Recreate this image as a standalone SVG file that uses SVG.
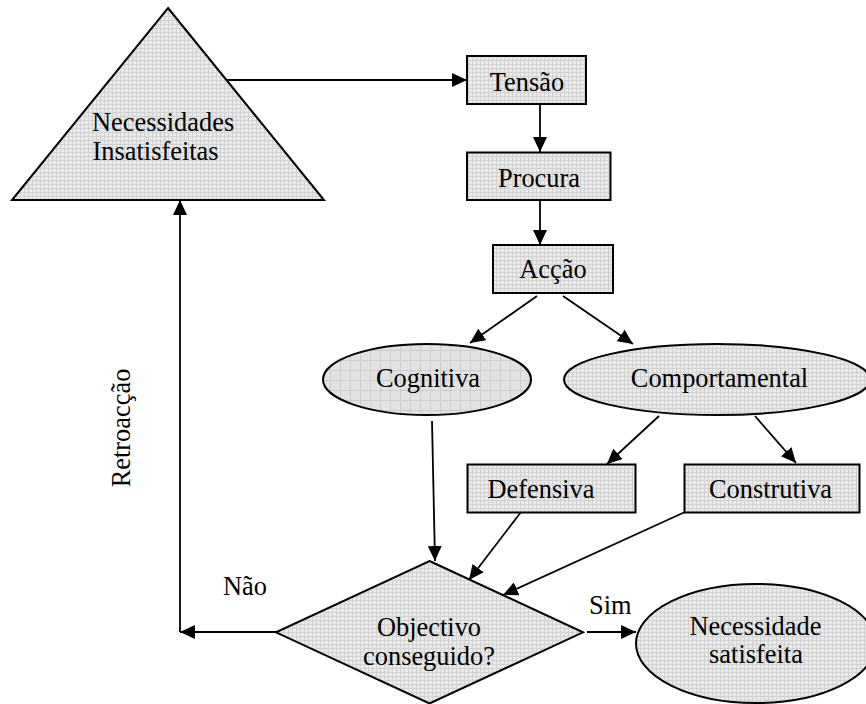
<svg xmlns="http://www.w3.org/2000/svg" width="866" height="704" viewBox="0 0 866 704">
<defs>
<pattern id="fine" width="4" height="4" patternUnits="userSpaceOnUse">
<rect width="4" height="4" fill="#e9e9e9"/>
<path d="M0,0.5 H4 M0.5,0 V4" stroke="#d2d2d2" stroke-width="1"/>
</pattern>
<pattern id="coarse" width="10" height="10" patternUnits="userSpaceOnUse">
<rect width="10" height="10" fill="#e2e2e2"/>
<path d="M0,0.5 H10 M0.5,0 V10" stroke="#cdcdcd" stroke-width="1"/>
</pattern>
<marker id="ah" markerUnits="userSpaceOnUse" markerWidth="15" markerHeight="14" refX="15" refY="7" orient="auto">
<path d="M0,0 L15,7 L0,14 z" fill="#000"/>
</marker>
</defs>
<style>
.shape{fill:url(#fine);stroke:#000;stroke-width:2}
.shape2{fill:url(#coarse);stroke:#000;stroke-width:2}
.conn{fill:none;stroke:#000;stroke-width:1.8}
.arr{marker-end:url(#ah)}
text{font-family:"Liberation Serif","Times New Roman",serif;font-size:26.4px;fill:#000}
.c{text-anchor:middle}
</style>
<rect width="866" height="704" fill="#fff"/>

<g id="connectors">
<path class="conn arr" d="M226,80 L467,80"/>
<path class="conn arr" d="M540,104 L540,152"/>
<path class="conn arr" d="M540,200 L540,245"/>
<path class="conn arr" d="M537,296 L470,343"/>
<path class="conn arr" d="M563,296 L633,344"/>
<path class="conn arr" d="M659,416 L607,464"/>
<path class="conn arr" d="M755,416 L796,463"/>
<path class="conn arr" d="M432,421 L435,561"/>
<path class="conn arr" d="M521,512 L469,580"/>
<path class="conn arr" d="M685,512 L503,595"/>
<path class="conn arr" d="M276,632 L180,632"/>
<path class="conn arr" d="M180,632 L180,200"/>
<path class="conn arr" d="M587,632 L636,632"/>
</g>

<g id="necessidades-insatisfeitas">
<polygon class="shape" points="168,8 324,200 12,200"/>
<text x="92" y="131">Necessidades</text>
<text x="92.5" y="159.5">Insatisfeitas</text>
</g>

<g id="tensao">
<rect class="shape" x="467" y="56" width="119" height="48"/>
<text class="c" x="527" y="91">Tensão</text>
</g>

<g id="procura">
<rect class="shape" x="467" y="152.5" width="143.5" height="47.5"/>
<text class="c" x="539" y="187">Procura</text>
</g>

<g id="accao">
<rect class="shape" x="493" y="245" width="120" height="48"/>
<text class="c" x="553" y="278">Acção</text>
</g>

<g id="cognitiva">
<ellipse class="shape2" cx="427" cy="379.5" rx="104" ry="35.5"/>
<text class="c" x="428" y="387">Cognitiva</text>
</g>

<g id="comportamental">
<ellipse class="shape" cx="717" cy="379.5" rx="153" ry="35.5"/>
<text class="c" x="719.5" y="387">Comportamental</text>
</g>

<g id="defensiva">
<rect class="shape" x="467.5" y="464.5" width="168" height="48"/>
<text class="c" x="541" y="498">Defensiva</text>
</g>

<g id="construtiva">
<rect class="shape" x="684.5" y="464.5" width="175" height="48"/>
<text class="c" x="770.5" y="498">Construtiva</text>
</g>

<g id="objectivo-conseguido">
<polygon class="shape" points="429.5,561 583,632.3 429.5,703.5 276,632.3"/>
<text class="c" x="429" y="636">Objectivo</text>
<text class="c" x="429" y="664.5">conseguido?</text>
</g>

<g id="necessidade-satisfeita">
<ellipse class="shape" cx="756" cy="643.5" rx="120" ry="59.5"/>
<text class="c" x="755.5" y="635">Necessidade</text>
<text class="c" x="756" y="663">satisfeita</text>
</g>

<g id="labels">
<text x="223" y="595">Não</text>
<text x="589" y="614">Sim</text>
<text class="c" x="130" y="428" transform="rotate(-90 130 428)">Retroacção</text>
</g>
</svg>
